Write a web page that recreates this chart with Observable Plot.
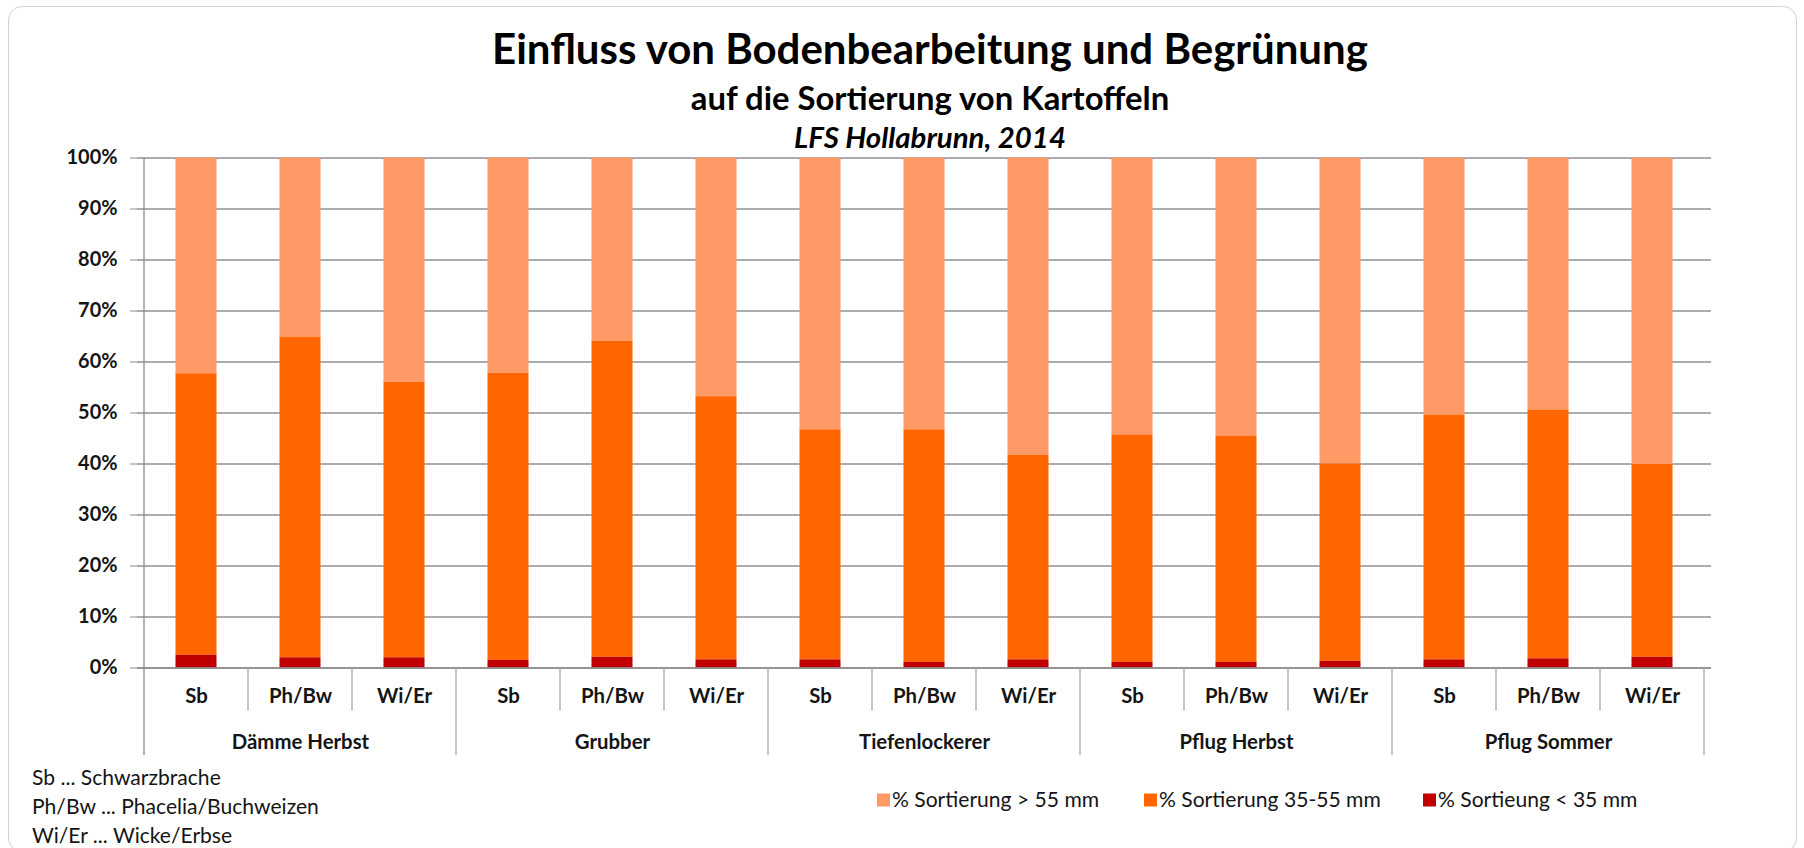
<!DOCTYPE html>
<html><head><meta charset="utf-8">
<script src="https://cdn.jsdelivr.net/npm/d3@7"></script>
<script src="https://cdn.jsdelivr.net/npm/@observablehq/plot@0.6"></script>
<style>
html,body{margin:0;padding:0;background:#fff;}
#wrap{position:relative;width:1804px;height:848px;overflow:hidden;font-family:Lato,"Open Sans",sans-serif;}
#border{position:absolute;left:8px;top:6px;width:1789px;height:846px;border:1.5px solid #d2d2d2;border-radius:14px;box-sizing:border-box;}
#chart,#overlay{position:absolute;left:0;top:0;}
</style></head><body>
<div id="wrap"><div id="border"></div><div id="chart"></div><svg id="overlay" width="1804" height="848"></svg></div>
<script>
// ---- data ----
const groups = ["Dämme Herbst", "Grubber", "Tiefenlockerer", "Pflug Herbst", "Pflug Sommer"];
const covers = ["Sb", "Ph/Bw", "Wi/Er"];
const seriesNames = ["% Sortierung > 55 mm", "% Sortierung 35-55 mm", "% Sortieung < 35 mm"];
const over55    = [42.3, 35.1, 44.0, 42.2, 35.9, 46.8, 53.3, 53.3, 58.3, 54.3, 54.6, 60.0, 50.4, 49.4, 60.1];
const mid35to55 = [55.2, 62.9, 54.0, 56.3, 62.0, 51.6, 45.1, 45.6, 40.1, 44.6, 44.3, 38.7, 48.0, 48.8, 37.8];
const under35   = [2.5, 2.0, 2.0, 1.5, 2.1, 1.6, 1.6, 1.1, 1.6, 1.1, 1.1, 1.3, 1.6, 1.8, 2.1];
const yTicks = [0, 10, 20, 30, 40, 50, 60, 70, 80, 90, 100];
const seriesColors = ["#FF9966", "#FF6600", "#C00000"];
const titleText = "Einfluss von Bodenbearbeitung und Begrünung";
const subtitleText = "auf die Sortierung von Kartoffeln";
const sourceText = "LFS Hollabrunn, 2014";
const footnotes = ["Sb ... Schwarzbrache", "Ph/Bw ... Phacelia/Buchweizen", "Wi/Er ... Wicke/Erbse"];

// ---- table ----
const keys = [];
const rows = [];
const seriesValues = [over55, mid35to55, under35];
groups.forEach((g, gi) => covers.forEach((c, ci) => {
  const i = gi * covers.length + ci;
  const key = g + "|" + c;
  keys.push(key);
  seriesValues.forEach((vals, si) => rows.push({key, group: g, cover: c, series: seriesNames[si], value: vals[i]}));
}));
const subLabels = keys.map(k => ({key: k, cover: k.split("|")[1]}));
const groupLabels = groups.map(g => ({key: g + "|" + covers[1], group: g}));

// ---- font fitting ----
const FAMILY = "Lato, 'Open Sans', sans-serif";
const ctx = document.createElement("canvas").getContext("2d");
function fit(text, style, target, fallback) {
  ctx.font = `${style} 100px Lato`;
  const w = ctx.measureText(text).width;
  return w > 0 ? 100 * target / w : fallback;
}
const tickSize = fit("100%", "bold", 51, 17);
const axisSize = (fit("Ph/Bw", "bold", 63, 19) + fit("Dämme Herbst", "bold", 138, 19)) / 2;
const smallSize = (fit("% Sortierung > 55 mm", "normal", 201, 18) + fit("Ph/Bw ... Phacelia/Buchweizen", "normal", 296, 18)) / 2;
const titleSize = fit(titleText, "bold", 877, 36);
const subSize = fit(subtitleText, "bold", 480, 26);
const srcSize = fit(sourceText, "italic bold", 272, 22);

// ---- separators of the two-level x axis ----
function xSeparators(index, scales) {
  const x = scales.x, y = scales.y;
  const bw = typeof x.bandwidth === "function" ? x.bandwidth() : (x(keys[1]) - x(keys[0]));
  const y0 = y(0);
  const g = d3.create("svg:g").attr("stroke", "#a6a6a6").attr("stroke-width", 1.3);
  keys.forEach((k, i) => {
    const xs = x(k);
    const isGroup = i % covers.length === 0;
    if (i === 0) {
      g.append("line").attr("x1", xs).attr("x2", xs).attr("y1", y(100)).attr("y2", y0 + 87.5).attr("stroke", "#8c8c8c");
    } else {
      g.append("line").attr("x1", xs).attr("x2", xs).attr("y1", y0).attr("y2", y0 + (isGroup ? 87.5 : 43));
    }
  });
  const xe = x(keys[keys.length - 1]) + bw;
  g.append("line").attr("x1", xe).attr("x2", xe).attr("y1", y0).attr("y2", y0 + 87.5);
  return g.node();
}

const chart = Plot.plot({
  width: 1804, height: 848,
  marginLeft: 137, marginRight: 93, marginTop: 157.5, marginBottom: 180.5,
  style: {fontFamily: FAMILY, fontWeight: "bold", fontSize: axisSize + "px", color: "#151515", background: "transparent", overflow: "visible"},
  x: {domain: keys, padding: 0, axis: null},
  y: {domain: [0, 100], axis: null, label: null},
  color: {domain: seriesNames, range: seriesColors},
  marks: [
    Plot.gridY(yTicks, {stroke: "#909090", strokeOpacity: 1, strokeWidth: 1.3}),
    Plot.barY(rows, {x: "key", y: "value", fill: "series", order: [seriesNames[2], seriesNames[1], seriesNames[0]], insetLeft: 31.5, insetRight: 31.5}),
    Plot.ruleY([0], {stroke: "#8c8c8c", strokeWidth: 1.5}),
    Plot.axisY(yTicks, {tickFormat: d => d + "%", tickSize: 7, tickPadding: 13, stroke: "#8c8c8c", fill: "#151515", fontWeight: "bold", fontSize: tickSize, label: null}),
    xSeparators,
    Plot.text(subLabels, {x: "key", text: "cover", frameAnchor: "bottom", dy: 35, fill: "#151515", fontWeight: "bold", fontSize: axisSize}),
    Plot.text(groupLabels, {x: "key", text: "group", frameAnchor: "bottom", dy: 81, fill: "#151515", fontWeight: "bold", fontSize: axisSize})
  ]
});
document.getElementById("chart").append(chart);

// ---- titles, legend, footnotes ----
const ov = d3.select("#overlay").style("font-family", FAMILY);
const cx = 930;
ov.append("text").attr("x", cx).attr("y", 64).attr("text-anchor", "middle").attr("font-weight", "bold").attr("font-size", titleSize).attr("fill", "#000").text(titleText);
ov.append("text").attr("x", cx).attr("y", 110).attr("text-anchor", "middle").attr("font-weight", "bold").attr("font-size", subSize).attr("fill", "#000").text(subtitleText);
ov.append("text").attr("x", cx).attr("y", 148).attr("text-anchor", "middle").attr("font-weight", "bold").attr("font-style", "italic").attr("font-size", srcSize).attr("fill", "#000").text(sourceText);

const legendX = [877, 1144, 1423];
seriesNames.forEach((s, i) => {
  const g = ov.append("g").attr("transform", `translate(${legendX[i]},800)`);
  g.append("rect").attr("x", 0).attr("y", -6.5).attr("width", 13).attr("height", 13).attr("fill", seriesColors[i]);
  g.append("text").attr("x", 15).attr("y", 0).attr("dy", "0.35em").attr("font-size", smallSize).attr("fill", "#151515").text(s);
});
const footY = [778, 807, 836];
footnotes.forEach((t, i) => {
  ov.append("text").attr("x", 32).attr("y", footY[i]).attr("dy", "0.35em").attr("font-size", smallSize).attr("fill", "#151515").text(t);
});
</script>
</body></html>
